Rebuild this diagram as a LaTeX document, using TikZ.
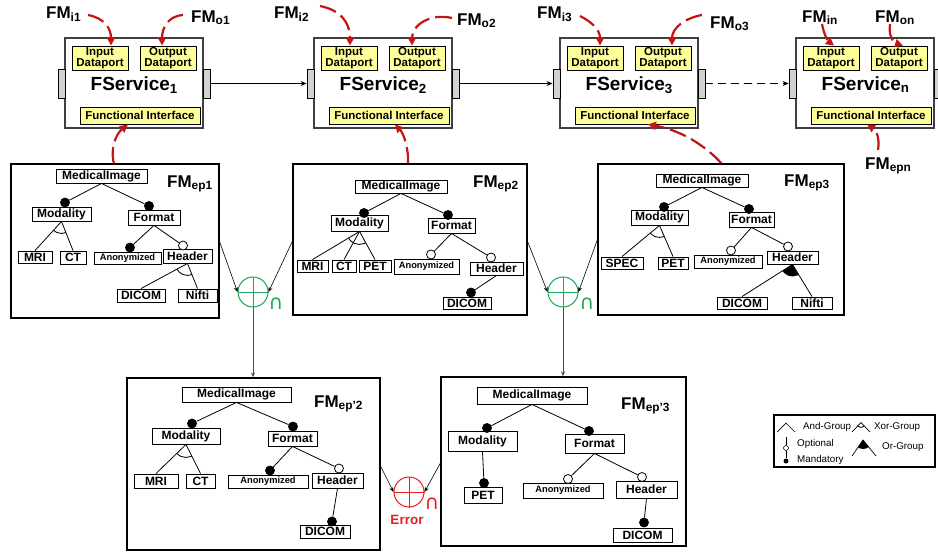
\documentclass[tikz,border=0pt]{standalone}
\usepackage{fontspec}
\setmainfont{Liberation Sans}
\newfontfamily\dejavu{DejaVu Sans}
\usetikzlibrary{arrows.meta}
\definecolor{darkred}{RGB}{196,20,20}
\definecolor{opgreen}{RGB}{30,165,85}
\definecolor{opred}{RGB}{236,28,36}
\definecolor{ylw}{RGB}{255,255,153}
\definecolor{portgray}{RGB}{210,210,210}

\newcommand{\FeatNode}[7][feat]{\node[#1, minimum width=#5, minimum height=#6] (#2) at (#3,#4) {#7};}
\newcommand{\XorArc}[4]{\begin{scope}\clip (#1) -- (#2) -- (#3) -- cycle; \draw[line width=0.8pt] (#1) circle (#4);\end{scope}}
\newcommand{\OrArc}[4]{\begin{scope}\clip (#1) -- (#2) -- (#3) -- cycle; \fill (#1) circle (#4);\end{scope}}
\newcommand{\Service}[3]{%
  \node[svc, minimum width=138, minimum height=90] (#1) at (#2+69,83) {};
  \node[port] (#1L) at (#2-3.5,83.5) {};
  \node[port] (#1R) at (#2+141.5,83.5) {};
  \node[ybox, minimum width=56, minimum height=24] (#1in) at (#2+35,58) {Input\\Dataport};
  \node[ybox, minimum width=56, minimum height=24] (#1out) at (#2+103,58) {Output\\Dataport};
  \node[ybox, minimum width=120, minimum height=17] (#1fi) at (#2+75,115.5) {Functional Interface};
  \node[svclab] (#1t) at (#2+25.5,90) {FService\textsubscript{#3}};
}
\newcommand{\FMlabel}[4]{\node[fmlab] (#1) at (#2,#3) {FM\textsubscript{#4}};}

\begin{document}
\begin{tikzpicture}[x=1pt,y=-1pt,
  feat/.style={draw, fill=white, inner sep=0pt, line width=0.9pt, font=\fontsize{12}{12}\selectfont\bfseries},
  featsm/.style={feat, font=\fontsize{9.3}{10}\selectfont\bfseries},
  mand/.style={circle, draw, fill=black, inner sep=0pt, minimum size=9, line width=0.8pt},
  optc/.style={circle, draw, fill=white, inner sep=0pt, minimum size=9, line width=0.8pt},
  edge/.style={line width=0.8pt},
  svc/.style={draw=black!75, fill=white, line width=1.1pt, inner sep=0pt},
  port/.style={draw, fill=portgray, line width=0.9pt, minimum width=7, minimum height=29, inner sep=0pt},
  ybox/.style={draw, fill=ylw, line width=0.9pt, inner sep=0pt, align=center, font=\fontsize{11.5}{11.5}\selectfont\bfseries},
  svclab/.style={anchor=base west, inner sep=0pt, font=\fontsize{19}{20}\selectfont\bfseries},
  fmlab/.style={anchor=base west, inner sep=0pt, font=\fontsize{17}{18}\selectfont\bfseries},
  frame/.style={draw, line width=1.3pt, inner sep=0pt},
  conn/.style={-{Stealth[length=6pt,width=5pt]}, line width=0.8pt},
  opconn/.style={-{Stealth[length=5pt,width=4pt]}, line width=0.6pt},
  downconn/.style={-{Stealth[length=5pt,width=4pt]}, line width=0.9pt, draw=black!70},
  redarr/.style={draw=darkred, line width=2.2pt, dash pattern=on 17pt off 6pt, -{Triangle[length=8pt,width=8pt]}},
  opcirc/.style={circle, draw, line width=1pt, minimum size=30, inner sep=0pt},
  capsym/.style={inner sep=0pt, font=\dejavu\fontsize{20}{20}\selectfont},
  legtext/.style={anchor=base west, inner sep=0pt, font=\fontsize{9.8}{10}\selectfont}
]
\useasboundingbox (0,0) rectangle (938,554);

% ---------------- services ----------------
\Service{s1}{65}{1}
\Service{s2}{314}{2}
\Service{s3}{560}{3}
\Service{sn}{796}{n}
\draw[conn] (s1R) -- (s2L);
\draw[conn] (s2R) -- (s3L);
\draw[conn, dash pattern=on 8pt off 5pt] (s3R) -- (snL);

% ---------------- FM labels ----------------
\FMlabel{li1}{46}{19}{i1}
\FMlabel{lo1}{191}{22}{o1}
\FMlabel{li2}{274}{19}{i2}
\FMlabel{lo2}{457}{25}{o2}
\FMlabel{li3}{537}{19}{i3}
\FMlabel{lo3}{710}{28}{o3}
\FMlabel{lin}{802}{22}{in}
\FMlabel{lon}{875}{22}{on}
\FMlabel{lepn}{865}{169}{epn}

% ---------------- red arrows ----------------
\draw[redarr] (88,15) .. controls (104,18) and (111,28) .. ([xshift=11pt]s1in.north);
\draw[redarr] (183,15) .. controls (168,16) and (162,28) .. ([xshift=-6pt]s1out.north);
\draw[redarr] (114,164) .. controls (110,148) and (116,134) .. ([xshift=-12pt]s1fi.south);
\draw[redarr] (320,6) .. controls (340,10) and (350,22) .. ([xshift=1pt]s2in.north);
\draw[redarr] (452,18) .. controls (430,13) and (412,25) .. ([xshift=-5pt]s2out.north);
\draw[redarr] (408,164) .. controls (409,150) and (404,134) .. ([xshift=6pt]s2fi.south);
\draw[redarr] (580,16) .. controls (592,22) and (600,30) .. ([xshift=5pt]s3in.north);
\draw[redarr] (702,15) .. controls (685,18) and (672,28) .. ([xshift=9pt]s3out.north);
\draw[redarr] (722,164) .. controls (705,145) and (680,130) .. ([xshift=13pt]s3fi.south);
\draw[redarr] (822,24) .. controls (824,35) and (828,41) .. ([xshift=3pt]snin.north);
\draw[redarr] (890,24) .. controls (888,38) and (895,43) .. ([xshift=4pt]snout.north);
\draw[redarr] (878,150) .. controls (880,138) and (876,130) .. ([xshift=-4pt]snfi.south);

% ---------------- frames ----------------
\node[frame, minimum width=208, minimum height=154] (ep1) at (115,241) {};
\node[frame, minimum width=234, minimum height=151] (ep2) at (410,239.5) {};
\node[frame, minimum width=246, minimum height=151] (ep3) at (721,239.5) {};
\node[frame, minimum width=253, minimum height=172] (ep4) at (253.5,464) {};
\node[frame, minimum width=245, minimum height=169] (ep5) at (563.5,461.5) {};

\FMlabel{lep1}{167}{187}{ep1}
\FMlabel{lep2}{473}{187}{ep2}
\FMlabel{lep3}{784}{186}{ep3}
\FMlabel{lep4}{314}{407}{ep'2}
\FMlabel{lep5}{621}{409}{ep'3}

% ---------------- FM ep1 ----------------
\FeatNode{mi1}{101.5}{176}{91}{14}{MedicalImage}
\FeatNode{mod1}{61.5}{214}{59}{14}{Modality}
\FeatNode{fmt1}{154}{217.5}{52}{15}{Format}
\FeatNode{mri1}{35}{257}{34}{12}{MRI}
\FeatNode{ct1}{73}{257.5}{26}{13}{CT}
\FeatNode[featsm]{ano1}{127.5}{258}{67}{12}{Anonymized}
\FeatNode{hdr1}{187.5}{256}{49}{14}{Header}
\FeatNode{dic1}{141}{295.5}{48}{13}{DICOM}
\FeatNode{nif1}{197.5}{295.5}{39}{13}{Nifti}
\node[mand] (cmod1) at (65,202.5) {};
\node[mand] (cfmt1) at (149,206) {};
\node[mand] (cano1) at (130,247.5) {};
\node[optc] (chdr1) at (183,245.5) {};
\draw[edge] (mi1.south) -- (cmod1);
\draw[edge] (mi1.south) -- (cfmt1);
\draw[edge] (mod1.south) -- (mri1.north);
\draw[edge] (mod1.south) -- (ct1.north);
\XorArc{mod1.south}{mri1.north}{ct1.north}{12}
\draw[edge] (fmt1.south) -- (cano1);
\draw[edge] (fmt1.south) -- (chdr1);
\draw[edge] (hdr1.south) -- (dic1.north);
\draw[edge] (hdr1.south) -- (nif1.north);
\XorArc{hdr1.south}{dic1.north}{nif1.north}{12}

% ---------------- FM ep2 ----------------
\FeatNode{mi2}{401}{186.5}{92}{13}{MedicalImage}
\FeatNode{mod2}{359.5}{223}{57}{16}{Modality}
\FeatNode{fmt2}{451.5}{225.5}{47}{15}{Format}
\FeatNode{mri2}{312.5}{266}{31}{12}{MRI}
\FeatNode{ct2}{344}{266}{24}{12}{CT}
\FeatNode{pet2}{375}{266}{32}{12}{PET}
\FeatNode[featsm]{ano2}{426.5}{266.5}{65}{15}{Anonymized}
\FeatNode{hdr2}{496.5}{268.5}{53}{13}{Header}
\FeatNode{dic2}{467}{303}{48}{12}{DICOM}
\node[mand] (cmod2) at (364,213) {};
\node[mand] (cfmt2) at (448,215) {};
\node[optc] (cano2) at (431,254.5) {};
\node[optc] (chdr2) at (491,257.5) {};
\node[mand] (cdic2) at (471,292.5) {};
\draw[edge] (mi2.south) -- (cmod2);
\draw[edge] (mi2.south) -- (cfmt2);
\draw[edge] (mod2.south) -- (mri2.north);
\draw[edge] (mod2.south) -- (ct2.north);
\draw[edge] (mod2.south) -- (pet2.north);
\XorArc{mod2.south}{mri2.north}{pet2.north}{13}
\draw[edge] (fmt2.south) -- (cano2);
\draw[edge] (fmt2.south) -- (chdr2);
\draw[edge] (hdr2.south) -- (cdic2);

% ---------------- FM ep3 ----------------
\FeatNode{mi3}{702}{180.5}{92}{13}{MedicalImage}
\FeatNode{mod3}{659.5}{217.5}{57}{15}{Modality}
\FeatNode{fmt3}{751.5}{219.5}{45}{15}{Format}
\FeatNode{spec3}{622}{263}{42}{12}{SPEC}
\FeatNode{pet3}{673}{263}{30}{12}{PET}
\FeatNode[featsm]{ano3}{728}{261.5}{68}{13}{Anonymized}
\FeatNode{hdr3}{792.5}{257.5}{51}{13}{Header}
\FeatNode{dic3}{742}{303}{50}{12}{DICOM}
\FeatNode{nif3}{812}{303}{40}{12}{Nifti}
\node[mand] (cmod3) at (664,207) {};
\node[mand] (cfmt3) at (749,209) {};
\node[optc] (cano3) at (731,250.5) {};
\node[optc] (chdr3) at (788,246.5) {};
\draw[edge] (mi3.south) -- (cmod3);
\draw[edge] (mi3.south) -- (cfmt3);
\draw[edge] (mod3.south) -- (spec3.north);
\draw[edge] (mod3.south) -- (pet3.north);
\XorArc{mod3.south}{spec3.north}{pet3.north}{12}
\draw[edge] (fmt3.south) -- (cano3);
\draw[edge] (fmt3.south) -- (chdr3);
\draw[edge] (hdr3.south) -- (dic3.north);
\draw[edge] (hdr3.south) -- (nif3.north);
\OrArc{hdr3.south}{dic3.north}{nif3.north}{12}

% ---------------- FM ep'2 ----------------
\FeatNode{mi4}{236.5}{394.5}{109}{15}{MedicalImage}
\FeatNode{mod4}{186}{436}{68}{16}{Modality}
\FeatNode{fmt4}{292.5}{438.5}{49}{15}{Format}
\FeatNode{mri4}{156}{481}{44}{14}{MRI}
\FeatNode{ct4}{200.5}{481}{29}{14}{CT}
\FeatNode[featsm]{ano4}{268}{481.5}{80}{13}{Anonymized}
\FeatNode{hdr4}{337.5}{480.5}{51}{15}{Header}
\FeatNode{dic4}{325}{531.5}{50}{13}{DICOM}
\node[mand] (cmod4) at (192,423.5) {};
\node[mand] (cfmt4) at (293,426.5) {};
\node[mand] (cano4) at (270,470.5) {};
\node[optc] (chdr4) at (339,468.5) {};
\node[mand] (cdic4) at (332,521.5) {};
\draw[edge] (mi4.south) -- (cmod4);
\draw[edge] (mi4.south) -- (cfmt4);
\draw[edge] (mod4.south) -- (mri4.north);
\draw[edge] (mod4.south) -- (ct4.north);
\XorArc{mod4.south}{mri4.north}{ct4.north}{13}
\draw[edge] (fmt4.south) -- (cano4);
\draw[edge] (fmt4.south) -- (chdr4);
\draw[edge] (hdr4.south) -- (cdic4);

% ---------------- FM ep'3 ----------------
\FeatNode{mi5}{532}{395.5}{110}{17}{MedicalImage}
\FeatNode{mod5}{482.5}{441}{69}{20}{Modality}
\FeatNode{fmt5}{594.5}{443.5}{59}{19}{Format}
\FeatNode{pet5}{483}{495}{38}{16}{PET}
\FeatNode[featsm]{ano5}{563}{490.5}{80}{15}{Anonymized}
\FeatNode{hdr5}{646.5}{489.5}{61}{17}{Header}
\FeatNode{dic5}{642.5}{535}{59}{14}{DICOM}
\node[mand] (cmod5) at (487,428) {};
\node[mand] (cfmt5) at (589,431) {};
\node[mand] (cpet5) at (484,483) {};
\node[optc] (cano5) at (568,479) {};
\node[optc] (chdr5) at (642,477) {};
\node[mand] (cdic5) at (644,522.5) {};
\draw[edge] (mi5.south) -- (cmod5);
\draw[edge] (mi5.south) -- (cfmt5);
\draw[edge] (mod5.south) -- (cpet5);
\draw[edge] (fmt5.south) -- (cano5);
\draw[edge] (fmt5.south) -- (chdr5);
\draw[edge] (hdr5.south) -- (cdic5);

% ---------------- operators ----------------
\node[opcirc, draw=opgreen] (op1) at (253,292) {};
\draw[opgreen, line width=1pt] (op1.north) -- (op1.south) (op1.west) -- (op1.east);
\node[capsym, text=opgreen] (cap1) at (276,304) {∩};
\node[opcirc, draw=opgreen] (op2) at (563,292) {};
\draw[opgreen, line width=1pt] (op2.north) -- (op2.south) (op2.west) -- (op2.east);
\node[capsym, text=opgreen] (cap2) at (587,304) {∩};
\node[opcirc, draw=opred] (op3) at (409,492) {};
\draw[opred, line width=1pt] (op3.north) -- (op3.south) (op3.west) -- (op3.east);
\node[capsym, text=opred] (cap3) at (432,504) {∩};
\node[inner sep=0pt, text=opred, font=\fontsize{13.5}{14}\selectfont\bfseries] (err) at (407,520) {Error};

\coordinate (a1) at (219,240);
\coordinate (a2) at (293,240);
\coordinate (a3) at (527,240);
\coordinate (a4) at (598,238);
\coordinate (a5) at (380,465);
\coordinate (a6) at (441,462);
\draw[opconn] (a1) -- (op1.west);
\draw[opconn] (a2) -- (op1.east);
\draw[opconn] (a3) -- (op2.west);
\draw[opconn] (a4) -- (op2.east);
\draw[opconn] (a5) -- (op3.west);
\draw[opconn] (a6) -- (op3.east);
\draw[downconn] (op1.south) -- (op1.south |- ep4.north);
\draw[downconn] (op2.south) -- (op2.south |- ep5.north);

% ---------------- legend ----------------
\node[draw, line width=1.8pt, minimum width=161, minimum height=52, inner sep=0pt] (leg) at (854.5,441) {};
\coordinate (andA) at (786,423); \coordinate (andL) at (777,432); \coordinate (andR) at (795,432);
\draw[line width=0.7pt] (andL) -- (andA) -- (andR);
\node[legtext] (tand) at (803,429.5) {And-Group};
\coordinate (xorA) at (861,422.5); \coordinate (xorL) at (852,432); \coordinate (xorR) at (870,432);
\draw[line width=0.7pt] (xorL) -- (xorA) -- (xorR);
\XorArc{xorA}{xorL}{xorR}{5}
\node[legtext] (txor) at (874,429.5) {Xor-Group};
\node[circle, draw, fill=white, inner sep=0pt, minimum size=5, line width=0.6pt] (lopt) at (786,448) {};
\coordinate (lopttop) at (786,437);
\draw[line width=0.7pt] (lopttop) -- (lopt);
\node[legtext] (topt) at (797,446.5) {Optional};
\node[circle, fill=black, inner sep=0pt, minimum size=5] (lman) at (786,461) {};
\coordinate (lmantop) at (786,451);
\draw[line width=0.7pt] (lmantop) -- (lman);
\node[legtext] (tman) at (797,462.5) {Mandatory};
\coordinate (orA) at (863,440); \coordinate (orL) at (852,456); \coordinate (orR) at (876,456);
\draw[line width=0.7pt] (orL) -- (orA) -- (orR);
\OrArc{orA}{orL}{orR}{9}
\node[legtext] (tor) at (882,449.5) {Or-Group};
\end{tikzpicture}
\end{document}
